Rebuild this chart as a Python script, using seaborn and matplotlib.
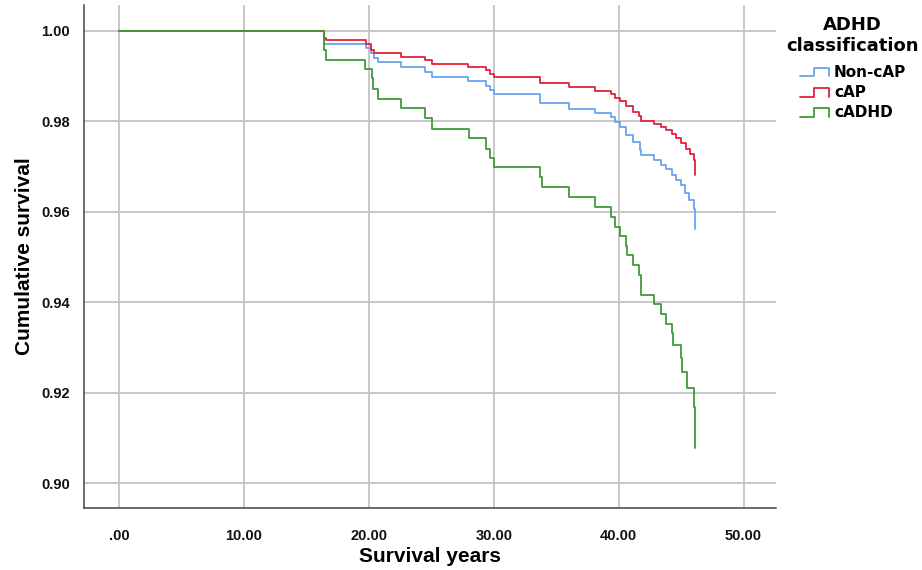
import matplotlib
matplotlib.use('Agg')
import matplotlib.pyplot as plt
from matplotlib.lines import Line2D
from matplotlib.legend_handler import HandlerBase
import numpy as np
import pandas as pd
import seaborn as sns

# Kaplan-Meier steps (years, cumulative survival)
noncap_time = [0, 16.4, 19.76, 20.2, 20.4, 20.75, 22.6, 24.5, 25.1, 27.97, 29.36, 29.68, 30.0,
               33.7, 36.0, 38.1, 39.36, 39.68, 40.13, 40.61, 41.15, 41.7, 41.8, 42.83, 43.4,
               43.8, 44.27, 44.6, 45.0, 45.3, 45.6, 46.0, 46.1, 46.15]
noncap_surv = [1.0, 0.99705, 0.99616, 0.99506, 0.9941, 0.99307, 0.99204, 0.991, 0.9899, 0.98894,
               0.9879, 0.98688, 0.986, 0.984, 0.9828, 0.9818, 0.9810, 0.9799, 0.9788, 0.9770,
               0.9755, 0.9737, 0.9726, 0.9715, 0.9704, 0.9694, 0.9681, 0.9670, 0.9659, 0.9642,
               0.9626, 0.9606, 0.9580, 0.9562]

cap_time = [0, 16.4, 16.55, 19.76, 20.21, 20.43, 22.61, 24.5, 25.1, 27.97, 29.36, 29.68, 30.0,
            33.7, 36.0, 38.1, 39.36, 39.68, 40.13, 40.61, 41.15, 41.63, 41.8, 42.83, 43.4, 43.8,
            44.27, 44.6, 45.0, 45.4, 45.7, 46.0, 46.1, 46.15]
cap_surv = [1.0, 0.9985, 0.9980, 0.99712, 0.9958, 0.99506, 0.99425, 0.99351, 0.99277, 0.99204,
            0.9913, 0.99056, 0.98975, 0.98842, 0.98768, 0.98679, 0.9860, 0.98525, 0.98451, 0.9834,
            0.9821, 0.9812, 0.9801, 0.9795, 0.9788, 0.9781, 0.9773, 0.9763, 0.9752, 0.9740,
            0.9727, 0.9714, 0.9700, 0.9681]

cadhd_time = [0, 16.4, 16.56, 19.7, 20.24, 20.35, 20.75, 22.6, 24.5, 25.1, 28.0, 29.4, 29.7, 30.0,
              33.7, 33.9, 36.0, 38.1, 39.36, 39.68, 40.13, 40.61, 40.7, 41.15, 41.63, 41.8, 42.83,
              43.4, 43.8, 44.27, 44.35, 45.0, 45.1, 45.5, 46.0, 46.1, 46.15]
cadhd_surv = [1.0, 0.9958, 0.99365, 0.9915, 0.9895, 0.9872, 0.985, 0.9829, 0.9807, 0.9784, 0.9763,
              0.974, 0.9718, 0.9698, 0.9676, 0.9654, 0.9632, 0.9611, 0.9589, 0.9567, 0.9546,
              0.9524, 0.9504, 0.9482, 0.946, 0.9416, 0.9395, 0.9374, 0.9352, 0.9331, 0.9305,
              0.9276, 0.9246, 0.9211, 0.9169, 0.9125, 0.9077]

groups = ['Non-cAP', 'cAP', 'cADHD']
colors = ['#69a4ee', '#e2213f', '#3f9a39']

x_ticks = [0, 10, 20, 30, 40, 50]
x_tick_labels = ['.00', '10.00', '20.00', '30.00', '40.00', '50.00']
y_ticks = [0.90, 0.92, 0.94, 0.96, 0.98, 1.00]
y_tick_labels = ['0.90', '0.92', '0.94', '0.96', '0.98', '1.00']

frames = []
for g, t, s in zip(groups, [noncap_time, cap_time, cadhd_time],
                   [noncap_surv, cap_surv, cadhd_surv]):
    frames.append(pd.DataFrame({'time': t, 'surv': s, 'group': g}))
df = pd.concat(frames, ignore_index=True)


class StepHandler(HandlerBase):
    # legend glyph shaped like a small step, as SPSS draws it
    def create_artists(self, legend, orig_handle, xdescent, ydescent, width, height, fontsize, trans):
        x0 = -xdescent
        xm = x0 + 0.48 * width
        x1 = x0 + width
        y0 = -ydescent + 0.05 * height
        y1 = -ydescent + 0.85 * height
        line = Line2D([x0, xm, xm, x1, x1], [y0, y0, y1, y1, y0],
                      color=orig_handle.get_color(), lw=1.3)
        line.set_transform(trans)
        return [line]


sns.set_theme(style='white')
plt.rcParams['font.family'] = ['Liberation Sans', 'DejaVu Sans']
plt.rcParams['text.color'] = 'black'
plt.rcParams['axes.labelcolor'] = 'black'

fig = plt.figure(figsize=(9.22, 5.70), dpi=100)
ax = fig.add_axes([84 / 922, 62 / 570, 692 / 922, 503 / 570])

sns.lineplot(data=df, x='time', y='surv', hue='group', hue_order=groups, palette=colors,
             drawstyle='steps-post', estimator=None, linewidth=1.3, ax=ax)

ax.set_xlim(-2.8, 52.6)
ax.set_ylim(0.89447, 1.00575)
ax.set_xticks(x_ticks)
ax.set_xticklabels(x_tick_labels)
ax.set_yticks(y_ticks)
ax.set_yticklabels(y_tick_labels)
ax.grid(True, color='#c4c4c4', linewidth=1.3)
ax.set_axisbelow(True)

for side in ['top', 'right']:
    ax.spines[side].set_visible(False)
for side in ['left', 'bottom']:
    ax.spines[side].set_color('#444444')
    ax.spines[side].set_linewidth(1.1)

ax.tick_params(axis='both', length=0, labelsize=10.5, labelcolor='#111111')
ax.tick_params(axis='y', pad=10)
ax.tick_params(axis='x', pad=15)
for lab in ax.get_xticklabels() + ax.get_yticklabels():
    lab.set_fontweight('bold')

ax.set_xlabel('Survival years', fontsize=15, fontweight='bold', labelpad=3)
ax.set_ylabel('Cumulative survival', fontsize=15, fontweight='bold', labelpad=5)

handles, labels = ax.get_legend_handles_labels()
ax.get_legend().remove()
fig.text(852 / 922, 1 - 24.5 / 570, 'ADHD', ha='center', va='center', fontsize=13,
         fontweight='bold', family='DejaVu Sans')
fig.text(852 / 922, 1 - 46 / 570, 'classification', ha='center', va='center', fontsize=13,
         fontweight='bold', family='DejaVu Sans')
leg = fig.legend(handles, labels, loc='upper left', bbox_to_anchor=(800 / 922, 1 - 65 / 570),
                 frameon=False, borderpad=0, borderaxespad=0, handlelength=1.9,
                 handletextpad=0.33, labelspacing=0.33, handler_map={Line2D: StepHandler()},
                 prop={'family': 'DejaVu Sans', 'weight': 'bold', 'size': 11})
for txt in leg.get_texts():
    txt.set_color('black')

fig.savefig('out.png', dpi=100)
